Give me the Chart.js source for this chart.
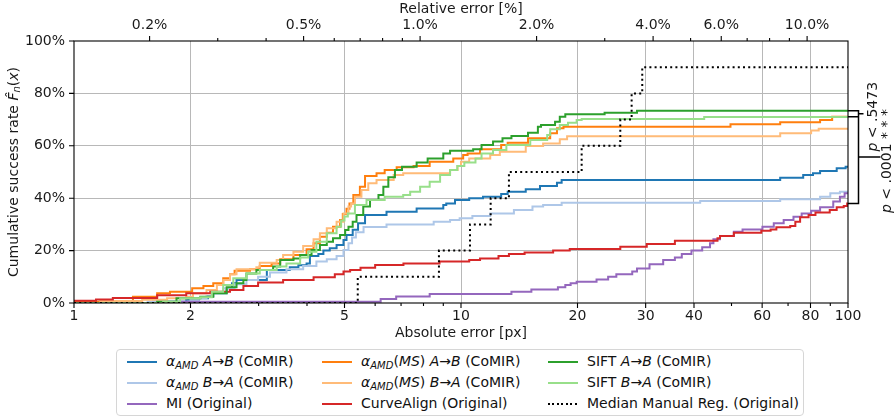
<!DOCTYPE html>
<html><head><meta charset="utf-8">
<script src="https://cdn.jsdelivr.net/npm/chart.js@4.4.1/dist/chart.umd.min.js"></script>
<style>
body{margin:0;background:#fff;}
#wrap{position:relative;width:894px;height:417px;overflow:hidden;font-family:'DejaVu Sans',sans-serif;}
#c{position:absolute;left:0;top:0;}
#legend{position:absolute;left:116px;top:349px;width:688px;height:67px;border:1px solid #d6d6d6;border-radius:4px;background:#fff;box-sizing:border-box;}
.ls{position:absolute;width:30px;height:2px;}
.lt{position:absolute;font-size:14px;line-height:16px;white-space:nowrap;color:#111;}
.lt i{font-style:italic}
.lt sub{font-size:10px;vertical-align:-3px;line-height:0;font-style:italic}
</style></head><body>
<div id="wrap"><canvas id="c" width="894" height="417"></canvas><div id="legend"></div></div>
<script>
// ---------- data (x = absolute error [px], y = cumulative success rate [%]) ----------
const amdAB = [[1,0],[1.6,0.5],[1.95,1.2],[2.1,1.8],[2.22,2.6],[2.29,3.7],[2.48,5.6],[2.56,7.5],[2.63,8.8],[3.15,12.6],[3.61,13.6],[3.8,14.4],[3.99,15.1],[4.07,17.9],[4.28,18.7],[4.41,20.0],[4.58,20.9],[4.77,22.1],[4.97,24.0],[5.06,26.0],[5.25,28.0],[5.42,30.4],[5.65,33.6],[6.42,34.8],[7.68,36.1],[9.0,37.4],[9.16,38.0],[9.65,39.3],[10.5,40.0],[11.4,40.6],[12.7,41.6],[13.2,42.5],[14.7,43.4],[16.0,44.7],[17.7,45.9],[18.2,46.9],[66.8,47.8],[76.6,48.9],[81.2,49.5],[84.7,50.4],[93.5,51.4],[98.6,52.0],[100,52.0]];
const amdBA = [[1,0],[1.55,0.5],[2.0,1.1],[2.1,1.8],[2.2,2.6],[2.27,3.7],[2.43,5.6],[2.6,7.2],[2.79,8.8],[2.99,10],[3.21,11.6],[3.54,12.9],[3.91,14.1],[4.23,15.8],[4.5,16.7],[4.77,17.9],[4.97,20.2],[5.12,22.8],[5.23,25],[5.35,27],[5.6,29],[6.42,30],[8.5,31],[9.37,31.7],[9.92,32.3],[10.7,33.2],[11.9,34.2],[13.7,35.5],[15.3,36.8],[16.3,37.4],[18.2,38.3],[41.5,38.9],[66.8,39.6],[84.7,40.6],[90,41.9],[95.3,42.5],[100,42.5]];
const miOrig = [[1,0],[1.75,0.5],[6.2,1.5],[6.8,2.5],[8.3,3.4],[13.5,4.3],[15.2,5.2],[17.8,6],[18.6,6.9],[19.2,7.5],[19.9,8.1],[22.4,9],[24,10],[25.2,11],[27.7,12],[28.5,13.2],[30.7,14.8],[33.3,16.4],[35.7,17.4],[37.2,18.7],[39.4,20],[42,21.3],[44,22.8],[44.9,24.3],[46.7,25.6],[50.7,27.2],[53.4,28.1],[60.1,29.1],[64.3,30.4],[68.2,31.7],[72.3,32.9],[75.9,34.2],[80.3,35.2],[84.7,36.5],[91.6,38.7],[95.3,40.6],[98,41.9],[100,41.9]];
const msAB = [[1,0.5],[1.42,2.4],[1.64,3.7],[1.77,4.3],[2.02,5.6],[2.16,6.5],[2.29,7.5],[2.43,9.4],[2.53,11],[2.6,12.3],[2.85,12.9],[3.02,14.1],[3.24,15.1],[3.41,16.7],[3.69,18.3],[3.99,20.5],[4.16,22.8],[4.32,25.3],[4.5,26.8],[4.67,29.1],[4.87,31.7],[4.95,34],[5.06,36],[5.15,38],[5.27,41.2],[5.48,44.4],[5.65,48.5],[6.05,49.5],[6.35,50.8],[6.82,51.8],[7.54,52.3],[8.3,53.9],[9.55,55.2],[10.13,56.5],[10.4,57.1],[11.2,58.7],[12.7,60.3],[13.2,61.2],[14.9,62.9],[17,64.8],[17.7,66.7],[18.4,67.3],[49.7,68.2],[66.8,69],[84.7,69.8],[91,71.1],[100,71.1]];
const msBA = [[1,0],[1.17,0.8],[1.5,1.2],[1.74,1.8],[1.95,2.4],[2.03,3.7],[2.2,5],[2.34,6.9],[2.43,8.8],[2.53,11],[2.63,12.9],[2.96,13.6],[3.02,15.4],[3.34,16.4],[3.47,18.3],[3.69,19.6],[3.91,21.8],[4.16,24.3],[4.32,26.6],[4.5,28.5],[4.77,31],[4.97,34.2],[5.12,36.8],[5.2,38],[5.32,40.6],[5.53,43.1],[5.76,45.7],[6.05,46.9],[6.7,48.9],[7.09,49.5],[9.37,50.8],[9.8,52.3],[10,53.9],[10.5,55.2],[11.9,56.5],[12.6,57.7],[14.7,59.9],[16.3,60.9],[18,62.5],[18.8,63.6],[66.8,64.8],[80.3,65.8],[84,66.5],[100,66.5]];
const curveAlign = [[1,0.9],[1.14,1.3],[1.26,1.9],[1.64,3.0],[1.95,3.7],[2.25,4.3],[2.53,5],[2.74,6.5],[2.99,7.8],[3.47,8.8],[4.16,9.8],[4.72,11],[4.97,12],[5.17,12.6],[5.5,13.5],[6,14.5],[7.1,15.1],[8.8,15.8],[10.5,16.4],[11.2,17],[12.5,17.9],[13.3,18.7],[14.6,19.3],[17.3,20],[19.1,20.6],[25.8,21.5],[30.2,22.5],[35.7,23.8],[46,24.7],[46.7,25.6],[50.7,26.8],[59.7,27.6],[63.1,28.1],[65.3,28.9],[70.9,29.4],[73.1,31],[75.2,32.7],[79.1,33.6],[82.4,34.5],[89.7,35.5],[93.5,36.5],[97.5,37],[99.5,38],[100,38]];
const siftAB = [[1,0],[1.64,0.5],[1.84,1.8],[2.12,2.4],[2.29,3.7],[2.48,6],[2.63,7.5],[2.74,8.8],[2.79,11.3],[2.96,12.6],[3.27,13.9],[3.41,16.4],[3.69,17],[3.84,18.3],[4.11,20.2],[4.32,22.1],[4.5,23.4],[4.67,24.7],[4.87,26],[5.02,27.9],[5.12,29.1],[5.25,31],[5.37,33.6],[5.59,36.8],[5.82,39.3],[6.12,41.2],[6.3,44.4],[6.49,48],[6.75,50.8],[7.04,52],[7.68,53.6],[8.2,55.2],[9,57.1],[9.37,58.1],[10.75,58.7],[11.3,60.3],[12.1,61.6],[12.8,62.9],[13.5,63.7],[14.9,65],[15.8,67.3],[16.1,67.9],[17.5,69.2],[18,71.1],[18.6,72],[23.5,72.6],[28.5,73.4],[100,73.4]];
const siftBA = [[1,0],[1.7,0.5],[1.88,1.8],[2.12,2.2],[2.27,4.3],[2.43,6.9],[2.58,9.4],[2.79,11.3],[3.02,12.6],[3.34,13.9],[3.54,15.1],[3.84,17.4],[4.03,19.6],[4.23,23.4],[4.5,26.6],[4.77,29.1],[4.9,31.5],[5.0,33],[5.1,34.2],[5.32,37.4],[5.7,39.3],[6.35,40.6],[7.09,41.2],[7.39,42.5],[7.84,44.4],[8.3,46.3],[8.83,48.9],[9.37,50.8],[9.78,52.3],[10.2,53.6],[10.9,55.2],[11.3,57.1],[12.1,58.4],[13.1,60.3],[15.1,62.2],[16.7,64.1],[17,66.3],[18,67.9],[18.9,68.8],[19.9,69.8],[20.5,70.2],[42.5,71],[100,71]];
const manualMedian = [[1,0],[5.41,10],[8.77,20],[10.55,30],[11.93,40],[13.3,50],[20.5,60],[25.8,70],[27.6,80],[29.4,90],[100,90]];

const seriesNames = ['αAMD A→B (CoMIR)','αAMD B→A (CoMIR)','MI (Original)','αAMD(MS) A→B (CoMIR)','αAMD(MS) B→A (CoMIR)','CurveAlign (Original)','SIFT A→B (CoMIR)','SIFT B→A (CoMIR)','Median Manual Reg. (Original)'];
const seriesData = [amdAB, amdBA, miOrig, msAB, msBA, curveAlign, siftAB, siftBA, manualMedian];
const legendHtml = [
 '<i>α</i><sub>AMD</sub> <i>A</i>→<i>B</i> (CoMIR)',
 '<i>α</i><sub>AMD</sub> <i>B</i>→<i>A</i> (CoMIR)',
 'MI (Original)',
 '<i>α</i><sub>AMD</sub>(<i>MS</i>) <i>A</i>→<i>B</i> (CoMIR)',
 '<i>α</i><sub>AMD</sub>(<i>MS</i>) <i>B</i>→<i>A</i> (CoMIR)',
 'CurveAlign (Original)',
 'SIFT <i>A</i>→<i>B</i> (CoMIR)',
 'SIFT <i>B</i>→<i>A</i> (CoMIR)',
 'Median Manual Reg. (Original)'
];

const absTicks = [1,2,3,4,5,6,7,8,9,10,20,30,40,50,60,70,80,90,100];
const absLabeled = [1,2,5,10,20,30,40,60,80,100];
const absGrid = [2,5,10,20,30,40,60,80];
const relTicks = [0.2,0.3,0.4,0.5,0.6,0.7,0.8,0.9,1,2,3,4,5,6,7,8,9,10];
const relLabeled = [0.2,0.5,1,2,4,6,10];
const yTicks = [0,20,40,60,80,100];
const pxPerPercent = 7.84;   // absolute px corresponding to 1 % relative error
const pTexts = ['< .5473', '< .0001 * * *'];

// ---------- styles ----------
const colors = ['#1f77b4','#aec7e8','#9467bd','#ff7f0e','#ffbb78','#d62728','#2ca02c','#98df8a','#000000'];
const FONT = "'DejaVu Sans', sans-serif";
const TXT = '#1a1a1a';
const FS = 14;

const datasets = seriesData.map((d,i)=>({
  label: seriesNames[i],
  data: d.map(p=>({x:p[0], y:p[1]})),
  borderColor: colors[i],
  borderWidth: i===8 ? 2 : 2,
  borderDash: i===8 ? [2,3.2] : [],
  stepped: 'before', pointRadius: 0, fill: false, clip: 0,
  order: 20 - i, xAxisID: 'x', yAxisID: 'y'
}));

function mixed(ctx, pieces, cx, cy, size){
  let w = 0; const ws = [];
  pieces.forEach(p=>{ ctx.font = (p.i?'italic ':'') + (p.s||size) + 'px ' + FONT; const m = ctx.measureText(p.t).width; ws.push(m); w += m; });
  let x = cx - w/2;
  pieces.forEach((p,k)=>{ ctx.font = (p.i?'italic ':'') + (p.s||size) + 'px ' + FONT; ctx.fillText(p.t, x, cy + (p.dy||0)); x += ws[k]; });
}

const decor = {
  id: 'decor',
  afterDatasetsDraw(chart){
    const {ctx, chartArea:a, scales} = chart;
    const x = scales.x, xt = scales.xTop, y = scales.y;
    ctx.save();
    ctx.strokeStyle = '#000'; ctx.lineWidth = 1.1;
    ctx.strokeRect(a.left, a.top, a.right - a.left, a.bottom - a.top);
    ctx.beginPath();
    absTicks.forEach(v=>{ const px = x.getPixelForValue(v); const len = absLabeled.includes(v) ? 5 : 3; ctx.moveTo(px, a.bottom); ctx.lineTo(px, a.bottom + len); });
    relTicks.forEach(p=>{ const px = xt.getPixelForValue(p*pxPerPercent); const len = relLabeled.includes(p) ? 5 : 3; ctx.moveTo(px, a.top); ctx.lineTo(px, a.top - len); });
    yTicks.forEach(v=>{ const py = y.getPixelForValue(v); ctx.moveTo(a.left, py); ctx.lineTo(a.left - 5, py); });
    ctx.stroke();

    // significance brackets
    const last = d => d[d.length-1][1];
    const yA = y.getPixelForValue(last(siftAB)), yB = y.getPixelForValue(last(msAB)), yC = y.getPixelForValue(last(curveAlign));
    const bx = a.right + 10.5;
    ctx.lineWidth = 1.5;
    ctx.beginPath();
    ctx.moveTo(a.right, yA); ctx.lineTo(bx, yA); ctx.lineTo(bx, yB); ctx.lineTo(a.right, yB);
    ctx.moveTo(bx, (yA+yB)/2); ctx.lineTo(bx + 5, (yA+yB)/2);
    ctx.moveTo(bx, yB); ctx.lineTo(bx, yC); ctx.lineTo(a.right, yC);
    ctx.moveTo(bx, (yB+yC)/2 - 3); ctx.lineTo(bx + 22, (yB+yC)/2 - 3);
    ctx.stroke();
    ctx.fillStyle = TXT; ctx.textBaseline = 'middle';
    ctx.save(); ctx.translate(a.right + 25, (yA+yB)/2 + 3); ctx.rotate(-Math.PI/2);
    mixed(ctx, [{t:'p', i:true},{t:' '+pTexts[0]}], 0, 0, FS); ctx.restore();
    ctx.save(); ctx.translate(a.right + 39, (yB+yC)/2 + 1); ctx.rotate(-Math.PI/2);
    mixed(ctx, [{t:'p', i:true},{t:' '+pTexts[1]}], 0, 0, FS); ctx.restore();

    // y axis title
    ctx.save(); ctx.translate(14, (a.top + a.bottom)/2); ctx.rotate(-Math.PI/2);
    mixed(ctx, [{t:'Cumulative success rate '},{t:'F\u0302', i:true},{t:'n', i:true, s:10, dy:3},{t:'('},{t:'x', i:true},{t:')'}], 0, 0, FS);
    ctx.restore();
    ctx.restore();
  }
};

const tickFont = {family: FONT, size: FS};
new Chart(document.getElementById('c'), {
  type: 'line',
  data: {datasets},
  options: {
    responsive: false, animation: false, devicePixelRatio: 1,
    layout: {padding: {left: 0, right: 46, top: 0, bottom: 0}},
    plugins: {legend: {display: false}, tooltip: {enabled: false}},
    scales: {
      x: {
        type: 'logarithmic', position: 'bottom', min: 1, max: 100,
        afterBuildTicks: s => { s.ticks = absTicks.map(v=>({value: v})); },
        afterFit: s => { s.height = 114; },
        ticks: {autoSkip: false, maxRotation: 0, minRotation: 0, padding: 5, color: TXT, font: tickFont,
          callback: v => absLabeled.includes(v) ? String(v) : ''},
        grid: {drawTicks: false, lineWidth: 1, color: c => (c.tick && absGrid.includes(c.tick.value)) ? '#b8b8b8' : 'rgba(0,0,0,0)'},
        border: {display: false},
        title: {display: true, text: 'Absolute error [px]', color: TXT, font: tickFont, padding: {top: 0, bottom: 75}}
      },
      xTop: {
        type: 'logarithmic', position: 'top', min: 1, max: 100,
        afterBuildTicks: s => { s.ticks = relTicks.map(p=>({value: p*pxPerPercent})); },
        afterFit: s => { s.height = 41; },
        ticks: {autoSkip: false, maxRotation: 0, minRotation: 0, padding: 7, color: TXT, font: tickFont,
          callback: (v, i) => relLabeled.includes(relTicks[i]) ? relTicks[i].toFixed(1) + '%' : ''},
        grid: {display: false, drawTicks: false},
        border: {display: false},
        title: {display: true, text: 'Relative error [%]', color: TXT, font: tickFont, padding: {top: 1, bottom: 0}}
      },
      y: {
        min: 0, max: 100,
        afterBuildTicks: s => { s.ticks = yTicks.map(v=>({value: v})); },
        afterFit: s => { s.width = 74; },
        ticks: {padding: 9, color: TXT, font: tickFont, callback: v => v + '%'},
        grid: {drawTicks: false, lineWidth: 1, color: c => (c.tick && c.tick.value > 0 && c.tick.value < 100) ? '#b8b8b8' : 'rgba(0,0,0,0)'},
        border: {display: false}
      }
    }
  },
  plugins: [decor]
});

// ---------- legend (HTML) ----------
const lg = document.getElementById('legend');
const colX = [10, 205, 431], rowY = [12, 33, 54];
seriesNames.forEach((n, i)=>{
  const c = Math.floor(i/3), r = i%3;
  const s = document.createElement('div'); s.className = 'ls';
  s.style.left = colX[c] + 'px'; s.style.top = (rowY[r] - 1) + 'px';
  if (i === 8) s.style.background = 'repeating-linear-gradient(to right,#000 0 2px,transparent 2px 4.5px)';
  else s.style.background = colors[i];
  lg.appendChild(s);
  const t = document.createElement('div'); t.className = 'lt';
  t.style.left = (colX[c] + 39) + 'px'; t.style.top = (rowY[r] - 9) + 'px';
  t.innerHTML = legendHtml[i];
  lg.appendChild(t);
});
</script>
</body></html>
